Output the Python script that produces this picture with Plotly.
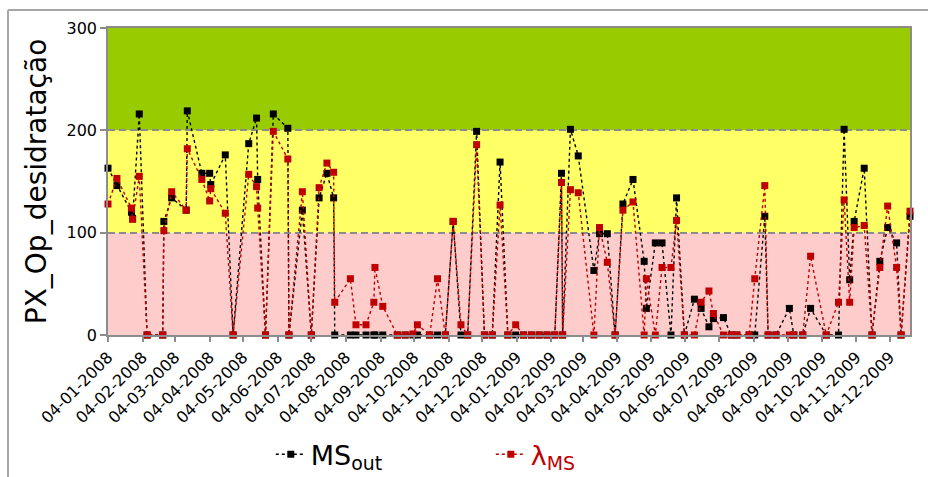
import plotly.graph_objects as go

# Weekly process readings, 2008-2009
dates = [
    "2008-01-04", "2008-01-12", "2008-01-25", "2008-01-26", "2008-02-01", "2008-02-08",
    "2008-02-22", "2008-02-23", "2008-03-01", "2008-03-14", "2008-03-15", "2008-03-28",
    "2008-04-04", "2008-04-05", "2008-04-18", "2008-04-25", "2008-05-09", "2008-05-16",
    "2008-05-17", "2008-05-24", "2008-05-31", "2008-06-13", "2008-06-14", "2008-06-26",
    "2008-07-04", "2008-07-11", "2008-07-18", "2008-07-24", "2008-07-25", "2008-08-08",
    "2008-08-13", "2008-08-22", "2008-08-29", "2008-08-30", "2008-09-06", "2008-09-19",
    "2008-09-26", "2008-10-03", "2008-10-07", "2008-10-18", "2008-10-25", "2008-11-01",
    "2008-11-08", "2008-11-15", "2008-11-21", "2008-11-29", "2008-12-06", "2008-12-13",
    "2008-12-20", "2008-12-27", "2009-01-03", "2009-01-10", "2009-01-17", "2009-01-24",
    "2009-01-31", "2009-02-07", "2009-02-13", "2009-02-14", "2009-02-21", "2009-02-28",
    "2009-03-14", "2009-03-19", "2009-03-26", "2009-04-02", "2009-04-09", "2009-04-18",
    "2009-04-28", "2009-04-30", "2009-05-08", "2009-05-14", "2009-05-22", "2009-05-27",
    "2009-06-03", "2009-06-12", "2009-06-18", "2009-06-25", "2009-06-29", "2009-07-08",
    "2009-07-15", "2009-07-20", "2009-07-31", "2009-08-05", "2009-08-14", "2009-08-17",
    "2009-08-24", "2009-09-05", "2009-09-09", "2009-09-17", "2009-09-24", "2009-10-08",
    "2009-10-19", "2009-10-24", "2009-10-29", "2009-11-02", "2009-11-11", "2009-11-18",
    "2009-11-25", "2009-12-02", "2009-12-10", "2009-12-14", "2009-12-22",
]

ms_out = [
    163, 146, 120, 114, 216, 0, 0, 111, 134, 122, 219, 158,
    158, 147, 176, 0, 187, 212, 152, 0, 216, 202, 0, 122,
    0, 134, 158, 134, 0, 0, 0, 0, 0, 0, 0, 0,
    0, 0, 0, 0, 0, 0, 111, 0, 0, 199, 0, 0,
    169, 0, 0, 0, 0, 0, 0, 0, 158, 0, 201, 175,
    63, 99, 99, 0, 128, 152, 72, 26, 90, 90, 0, 134,
    0, 35, 26, 8, 16, 17, 0, 0, 0, 0, 116, 0,
    0, 26, 0, 0, 26, 0, 0, 201, 54, 111, 163, 0,
    72, 105, 90, 0, 116,
]

lambda_ms = [
    128, 153, 124, 113, 155, 0, 0, 102, 140, 122, 182, 152,
    131, 143, 119, 0, 157, 145, 124, 0, 199, 172, 0, 140,
    0, 144, 168, 159, 32, 55, 10, 10, 32, 66, 28, 0,
    0, 1, 10, 0, 55, 0, 111, 10, 0, 186, 0, 0,
    127, 0, 10, 0, 0, 0, 0, 0, 149, 0, 142, 139,
    0, 105, 71, 0, 122, 130, 0, 55, 0, 66, 66, 112,
    0, 0, 32, 43, 21, 0, 0, 0, 0, 55, 146, 0,
    0, 0, 0, 0, 77, 0, 32, 132, 32, 105, 107, 0,
    66, 126, 66, 0, 121,
]

# Operating bands: (lower, upper, fill)
band_low = [0, 100, 200]
band_high = [100, 200, 300]
band_colors = ["#FFCCCC", "#FFFF66", "#99CC00"]

y_ticks = [0, 100, 200, 300]
x_start, x_end = "2008-01-04", "2009-12-22"

FONT = "DejaVu Sans"
RED = "#C00000"
GREY = "#8C8C8C"

fig = go.Figure()

fig.add_trace(go.Scatter(
    x=dates, y=ms_out, mode="lines+markers",
    name="MS<sub>out</sub>", cliponaxis=False,
    line=dict(color="black", width=1.4, dash="3px,3px"),
    marker=dict(symbol="square", size=7, color="black"),
))
fig.add_trace(go.Scatter(
    x=dates, y=lambda_ms, mode="lines+markers",
    name=f"<span style='color:{RED}'>λ<sub>MS</sub></span>", cliponaxis=False,
    line=dict(color=RED, width=1.4, dash="3px,3px"),
    marker=dict(symbol="square", size=7, color=RED),
))

shapes = []
for lo, hi, col in zip(band_low, band_high, band_colors):
    shapes.append(dict(
        type="rect", xref="paper", yref="y", x0=0, x1=1, y0=lo, y1=hi,
        fillcolor=col, line=dict(width=0), layer="below",
    ))

# Outer chart frame (left and top edges)
shapes.append(dict(type="line", xref="paper", yref="paper",
                   x0=-0.1247, x1=-0.1247, y0=1.0586, y1=-0.6,
                   line=dict(color="#A6A6A6", width=2)))
shapes.append(dict(type="line", xref="paper", yref="paper",
                   x0=-0.1247, x1=1.1, y0=1.0586, y1=1.0586,
                   line=dict(color="#A6A6A6", width=2)))

fig.update_layout(
    width=928, height=477,
    margin=dict(l=108, r=18, t=28, b=142, autoexpand=False),
    paper_bgcolor="white", plot_bgcolor="white",
    font=dict(family=FONT, color="black"),
    shapes=shapes,
    showlegend=True,
    legend=dict(
        orientation="h", x=0.203, xanchor="left", y=-0.39, yanchor="middle",
        font=dict(family=FONT, size=27, color="black"),
        entrywidth=175, bgcolor="rgba(0,0,0,0)",
    ),
    xaxis=dict(
        type="date", range=[x_start, x_end],
        tick0=x_start, dtick="M1", tickformat="%d-%m-%Y",
        tickangle=-45, tickfont=dict(family=FONT, size=16, color="black"),
        ticks="outside", ticklen=5, tickcolor=GREY, tickwidth=1.5,
        showgrid=False, zeroline=False,
        showline=True, linecolor=GREY, linewidth=1.5, mirror=True,
    ),
    yaxis=dict(
        range=[0, 300], tickvals=y_ticks,
        tickfont=dict(family=FONT, size=16, color="black"),
        ticks="outside", ticklen=6, tickcolor=GREY, tickwidth=1.5,
        showgrid=True, gridcolor=GREY, gridwidth=1.5, griddash="7px,4px",
        zeroline=False,
        showline=True, linecolor=GREY, linewidth=1.5, mirror=True,
        title=dict(text="PX_Op_desidratação", font=dict(family=FONT, size=28, color="black"),
                   standoff=12),
    ),
)

fig.write_html("out.html")
